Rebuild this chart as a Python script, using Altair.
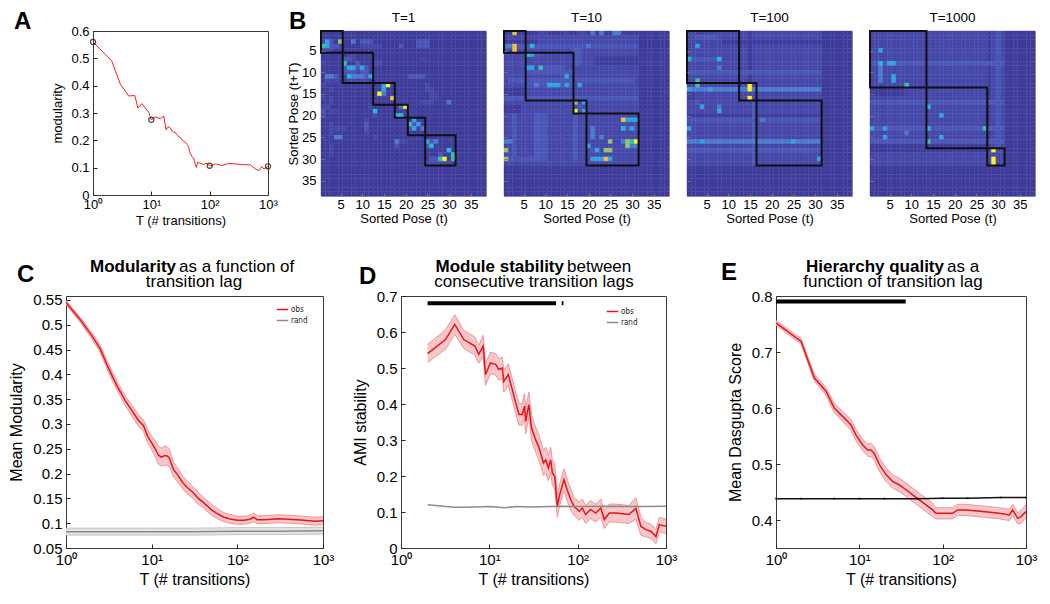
import altair as alt
import numpy as np
import pandas as pd

FONT = "Liberation Sans"
RED = "#e8141b"
BAND_FILL = "#f7c6c8"
BAND_EDGE = "#f08c90"

# ---------------- Panel A : modularity vs lag (example) ----------------
A_T = [1, 2.1, 2.95, 4.1, 5.2, 5.9, 6.9, 9.0, 10, 11.7, 14.3, 16.3, 17.9, 19.5, 21.2, 23, 26, 28,
       31.6, 34, 38, 41, 43.9, 45, 47, 50, 53.6, 56, 59, 62, 65, 74, 80, 87, 99.6, 110, 126, 164,
       214, 362, 502, 610, 700, 780, 850, 1000]
A_mod = [0.56, 0.49, 0.405, 0.362, 0.364, 0.318, 0.334, 0.303, 0.275, 0.286, 0.279, 0.289, 0.238,
         0.25, 0.245, 0.232, 0.228, 0.218, 0.21, 0.2, 0.193, 0.185, 0.175, 0.16, 0.15, 0.14, 0.132,
         0.115, 0.101, 0.12, 0.118, 0.114, 0.112, 0.117, 0.107, 0.108, 0.114, 0.108, 0.116, 0.111,
         0.11, 0.095, 0.089, 0.105, 0.095, 0.105]
A_mark_T = [1, 10, 100, 1000]
A_mark_v = [0.56, 0.275, 0.107, 0.105]

# ---------------- Panel B : transition matrices ----------------
B_titles = ["T=1", "T=10", "T=100", "T=1000"]
B_n = 38
B_ticks = [5, 10, 15, 20, 25, 30, 35]
B_modules = [
    [(1, 5), (6, 12), (13, 17), (18, 20), (21, 24), (25, 31)],
    [(1, 5), (6, 16), (17, 19), (20, 31)],
    [(1, 12), (13, 16), (17, 31)],
    [(1, 13), (14, 27), (28, 31)],
]
# blocks: (row_from, row_to, col_from, col_to, colour level 0-9), painted in order
B1_blocks = [
    (3, 3, 1, 1, 1), (3, 3, 2, 2, 4), (3, 3, 3, 3, 2), (3, 3, 5, 5, 7), (3, 3, 8, 8, 3), (3, 3, 10, 12, 2), (3, 3, 23, 25, 2),
    (4, 4, 1, 1, 6), (4, 4, 2, 2, 4), (4, 4, 3, 4, 2), (4, 4, 5, 5, 1), (4, 4, 10, 14, 1), (4, 4, 19, 19, 2), (4, 4, 23, 25, 2),
    (5, 5, 1, 3, 1), (6, 6, 7, 8, 1),
    (7, 7, 6, 7, 2), (7, 7, 8, 8, 1), (7, 7, 24, 24, 1),
    (8, 8, 1, 1, 1), (8, 8, 6, 6, 6), (8, 8, 9, 9, 2), (8, 8, 13, 14, 1),
    (9, 9, 6, 6, 2), (9, 9, 7, 8, 4), (9, 9, 9, 9, 2), (9, 9, 10, 10, 4), (9, 9, 11, 11, 2),
    (10, 10, 6, 11, 2), (10, 10, 9, 9, 1),
    (11, 11, 2, 3, 3), (11, 11, 4, 4, 2), (11, 11, 7, 7, 5), (11, 11, 8, 10, 3), (11, 11, 11, 11, 2), (11, 11, 12, 12, 4), (11, 11, 21, 24, 2),
    (12, 12, 2, 4, 1), (12, 12, 7, 11, 1),
    (13, 13, 1, 1, 1), (13, 13, 15, 15, 4), (13, 13, 16, 16, 9), (13, 13, 25, 25, 1),
    (14, 14, 3, 3, 1), (14, 14, 15, 15, 4), (14, 14, 25, 26, 1),
    (15, 15, 14, 14, 9), (15, 15, 15, 15, 3), (15, 15, 26, 27, 1),
    (16, 16, 1, 1, 1), (16, 16, 3, 3, 1), (16, 16, 17, 17, 8), (16, 16, 26, 27, 1),
    (17, 17, 3, 3, 1), (17, 17, 24, 26, 1), (17, 17, 30, 30, 3),
    (18, 18, 1, 2, 1), (18, 18, 12, 12, 1), (18, 18, 19, 19, 3), (18, 18, 20, 20, 9),
    (19, 19, 1, 1, 2), (19, 19, 3, 4, 1), (19, 19, 13, 13, 5),
    (20, 20, 1, 1, 1), (20, 20, 13, 13, 1), (20, 20, 18, 19, 5),
    (21, 21, 11, 11, 1), (21, 21, 22, 22, 4),
    (22, 22, 3, 3, 1), (22, 22, 11, 11, 2), (22, 22, 21, 21, 6), (22, 22, 22, 22, 2), (22, 22, 23, 23, 4),
    (23, 23, 3, 6, 1), (23, 23, 11, 11, 2), (23, 23, 21, 21, 2), (23, 23, 22, 22, 4), (23, 23, 24, 24, 3),
    (24, 24, 3, 3, 1), (24, 24, 11, 11, 1),
    (25, 25, 4, 5, 3), (25, 25, 13, 13, 1), (25, 25, 23, 23, 1),
    (26, 26, 18, 18, 3), (26, 26, 19, 20, 1), (26, 26, 25, 25, 4), (26, 26, 26, 26, 2), (26, 26, 27, 27, 3),
    (27, 27, 3, 3, 1), (27, 27, 18, 18, 2), (27, 27, 25, 25, 2), (27, 27, 26, 26, 5),
    (28, 28, 3, 3, 1), (28, 28, 30, 30, 5),
    (29, 29, 3, 3, 1), (29, 29, 28, 28, 2), (29, 29, 31, 31, 6),
    (30, 30, 26, 27, 2), (30, 30, 28, 28, 6), (30, 30, 29, 29, 9), (30, 30, 31, 31, 6),
    (31, 31, 25, 30, 1),
]
B2_blocks = [
    (2, 31, 1, 31, 1),
    (1, 1, 9, 10, 1), (1, 1, 15, 15, 1), (1, 1, 18, 19, 1), (1, 1, 21, 21, 3), (1, 1, 23, 23, 3), (1, 1, 26, 27, 3), (1, 1, 3, 3, 8),
    (3, 3, 1, 8, 0), (14, 15, 1, 5, 0), (7, 8, 22, 31, 0), (18, 19, 1, 4, 0),
    (4, 4, 1, 31, 2), (4, 4, 1, 2, 3), (4, 5, 3, 3, 8), (4, 4, 7, 7, 5), (4, 4, 20, 20, 3),
    (6, 6, 6, 6, 6), (6, 6, 7, 7, 4), (6, 6, 8, 9, 2), (5, 8, 17, 18, 2),
    (9, 9, 6, 7, 4), (9, 9, 9, 9, 6), (9, 9, 10, 14, 2),
    (10, 10, 6, 16, 2), (11, 11, 15, 15, 4), (12, 12, 2, 30, 2),
    (13, 13, 6, 16, 2), (13, 13, 8, 8, 3), (13, 13, 11, 13, 4), (13, 13, 15, 15, 4), (13, 13, 18, 18, 4),
    (16, 16, 1, 31, 2),
    (17, 17, 17, 17, 7), (17, 17, 19, 19, 4), (18, 18, 18, 18, 2), (19, 19, 17, 17, 9), (19, 19, 19, 19, 4),
    (20, 30, 3, 3, 2), (20, 30, 8, 10, 2), (20, 30, 17, 17, 2), (23, 25, 21, 21, 3),
    (21, 21, 28, 28, 8), (21, 21, 29, 31, 4),
    (23, 23, 28, 28, 5), (23, 23, 29, 29, 2), (23, 23, 30, 30, 4), (23, 23, 31, 31, 2),
    (25, 25, 23, 23, 3),
    (26, 26, 1, 2, 3), (26, 26, 25, 25, 7), (26, 26, 28, 28, 3), (26, 26, 29, 29, 7), (26, 26, 30, 30, 6), (26, 26, 31, 31, 9),
    (27, 27, 20, 20, 4), (27, 27, 29, 29, 7), (27, 27, 30, 31, 3),
    (28, 28, 1, 1, 7), (28, 28, 21, 21, 2), (28, 28, 22, 22, 4), (28, 28, 24, 25, 7),
    (30, 30, 2, 10, 2), (30, 30, 1, 1, 7), (30, 30, 21, 23, 4), (30, 30, 24, 24, 8), (30, 30, 25, 25, 4),
]
B3_blocks = [
    (1, 31, 1, 31, 1),
    (1, 13, 15, 15, 0), (15, 16, 1, 2, 0), (3, 3, 9, 31, 0), (20, 20, 1, 31, 0),
    (2, 2, 3, 7, 2), (4, 4, 3, 3, 4),
    (7, 7, 2, 7, 2), (7, 7, 1, 1, 5), (7, 7, 8, 8, 5),
    (9, 9, 8, 8, 3), (10, 10, 1, 31, 2),
    (12, 13, 3, 3, 6),
    (14, 14, 1, 31, 3), (14, 14, 1, 1, 4), (14, 14, 6, 6, 4),
    (13, 14, 15, 15, 9), (16, 16, 15, 15, 9),
    (17, 17, 3, 3, 2), (18, 18, 4, 4, 4), (18, 18, 8, 8, 3), (19, 19, 8, 8, 4),
    (17, 31, 16, 16, 2),
    (21, 21, 1, 31, 2), (21, 21, 18, 18, 3),
    (23, 23, 1, 1, 4),
    (26, 26, 1, 31, 3), (26, 26, 4, 4, 4), (26, 26, 25, 25, 4),
    (28, 28, 1, 31, 2),
    (30, 30, 31, 31, 4),
]
B4_blocks = [
    (1, 31, 1, 31, 1),
    (1, 27, 28, 28, 0), (1, 27, 30, 30, 2), (14, 15, 1, 8, 0), (27, 28, 1, 27, 0),
    (5, 5, 3, 3, 4),
    (8, 8, 1, 31, 2), (8, 8, 3, 3, 5), (8, 8, 5, 6, 4),
    (9, 12, 3, 3, 3), (11, 12, 6, 6, 4), (13, 13, 9, 9, 6),
    (17, 17, 1, 31, 2), (18, 18, 14, 14, 5), (20, 20, 17, 17, 4),
    (23, 23, 1, 31, 2), (23, 23, 1, 1, 4), (23, 23, 4, 4, 4), (23, 23, 14, 14, 5), (23, 23, 27, 27, 6),
    (24, 24, 9, 9, 3), (25, 25, 4, 4, 4), (25, 25, 17, 17, 4),
    (26, 26, 1, 31, 2), (26, 26, 14, 14, 6),
    (28, 28, 29, 29, 9), (30, 31, 29, 29, 9),
]
B_blocks = [B1_blocks, B2_blocks, B3_blocks, B4_blocks]
LEVEL_COLORS = ["#3e3c9b", "#4547a9", "#4a56b8", "#4a7ad2", "#2ea5e2", "#1cbfd6",
                "#38c1a2", "#8fc761", "#f2c236", "#f8f41a"]

# ---------------- Panel C : mean modularity ----------------
C_T = [1, 1.5, 2, 2.5, 3, 3.5, 4, 5, 6, 7, 8, 9, 10, 11, 12, 13, 14, 15, 16, 17, 18, 20, 23, 26,
       30, 35, 40, 50, 60, 70, 80, 100, 120, 140, 155, 170, 200, 250, 300, 400, 500, 600, 800, 1000]
C_m = [0.545, 0.508, 0.478, 0.452, 0.42, 0.395, 0.375, 0.345, 0.325, 0.307, 0.297, 0.275, 0.262,
       0.25, 0.237, 0.233, 0.236, 0.236, 0.232, 0.22, 0.208, 0.198, 0.182, 0.172, 0.163, 0.15,
       0.142, 0.127, 0.118, 0.112, 0.109, 0.106, 0.106, 0.108, 0.112, 0.107, 0.107, 0.108, 0.109,
       0.108, 0.107, 0.106, 0.104, 0.105]
C_hw = [0.004, 0.005, 0.006, 0.007, 0.008, 0.009, 0.009, 0.01, 0.011, 0.012, 0.012, 0.013, 0.014,
        0.016, 0.018, 0.018, 0.019, 0.019, 0.018, 0.016, 0.015, 0.014, 0.013, 0.013, 0.012, 0.012,
        0.011, 0.011, 0.01, 0.009, 0.009, 0.008, 0.008, 0.008, 0.009, 0.008, 0.008, 0.008, 0.008,
        0.008, 0.008, 0.008, 0.008, 0.008]
C_rT = [1, 3, 10, 30, 100, 300, 1000]
C_rm = [0.083, 0.083, 0.083, 0.083, 0.084, 0.084, 0.085]
C_rhw = [0.007, 0.007, 0.007, 0.007, 0.007, 0.007, 0.007]

# ---------------- Panel D : AMI stability ----------------
D_T = [2, 3.19, 4.06, 5.14, 6.86, 7.6, 8.5, 9.06, 10.3, 11.8, 12.8, 14, 14.6, 16.4, 18.2, 19.9,
       21.7, 23.6, 25, 25.8, 28, 30, 33.4, 36, 38, 41, 43.5, 46.6, 49.5, 51.7, 55, 58.8, 62.6, 70,
       76, 83.5, 91, 104, 113, 123, 140, 160, 183, 200, 228, 270, 380, 456, 520, 594, 677, 770,
       840, 1000]
D_m = [0.54, 0.579, 0.621, 0.579, 0.561, 0.538, 0.561, 0.482, 0.514, 0.51, 0.496, 0.50, 0.463,
       0.482, 0.44, 0.403, 0.371, 0.371, 0.394, 0.352, 0.398, 0.334, 0.301, 0.283, 0.264, 0.236,
       0.245, 0.222, 0.245, 0.209, 0.199, 0.116, 0.148, 0.19, 0.162, 0.134, 0.116, 0.102, 0.111,
       0.093, 0.107, 0.097, 0.111, 0.079, 0.097, 0.097, 0.093, 0.11, 0.06, 0.051, 0.046, 0.032,
       0.065, 0.06]
D_hw = [0.025, 0.027, 0.027, 0.025, 0.025, 0.025, 0.03, 0.03, 0.03, 0.03, 0.03, 0.03, 0.03, 0.03,
        0.03, 0.03, 0.03, 0.03, 0.035, 0.035, 0.035, 0.035, 0.035, 0.035, 0.035, 0.035, 0.035,
        0.035, 0.035, 0.035, 0.035, 0.03, 0.03, 0.03, 0.03, 0.03, 0.025, 0.025, 0.025, 0.025,
        0.025, 0.025, 0.025, 0.025, 0.025, 0.025, 0.025, 0.03, 0.025, 0.02, 0.02, 0.02, 0.02, 0.02]
D_rT = [2, 3, 4, 5, 7, 10, 15, 20, 30, 50, 70, 100, 200, 500, 1000]
D_rm = [0.12, 0.116, 0.113, 0.113, 0.114, 0.115, 0.112, 0.115, 0.114, 0.115, 0.116, 0.115, 0.116,
        0.115, 0.116]
D_sig_start = [2, 66]
D_sig_end = [57, 69]
D_sig_y = [0.68, 0.68]

# ---------------- Panel E : Dasgupta score ----------------
E_T = [1, 2, 2.88, 3.98, 5, 6.3, 7.9, 9.1, 10.96, 12.6, 13.8, 15.1, 17.4, 20.9, 25, 30, 36.3, 43.6,
       52.5, 63, 75.9, 83, 100, 131, 151, 190, 302, 479, 631, 692, 794, 870, 1000]
E_m = [0.752, 0.719, 0.654, 0.63, 0.60, 0.585, 0.57, 0.552, 0.534, 0.525, 0.525, 0.519, 0.499,
       0.481, 0.469, 0.463, 0.454, 0.445, 0.436, 0.427, 0.418, 0.412, 0.412, 0.412, 0.418, 0.418,
       0.415, 0.412, 0.409, 0.418, 0.403, 0.406, 0.415]
E_hw = [0.004, 0.005, 0.006, 0.007, 0.008, 0.009, 0.01, 0.01, 0.01, 0.011, 0.012, 0.012, 0.012,
        0.012, 0.012, 0.012, 0.012, 0.012, 0.012, 0.012, 0.012, 0.01, 0.01, 0.01, 0.01, 0.01, 0.01,
        0.01, 0.01, 0.01, 0.01, 0.012, 0.012]
E_rT = [1, 2, 5, 10, 20, 50, 100, 200, 500, 1000]
E_rm = [0.438, 0.438, 0.438, 0.438, 0.438, 0.438, 0.439, 0.439, 0.44, 0.44]
E_sig_start = [1]
E_sig_end = [36]
E_sig_y = [0.79]

LOG_LABELS = ("datum.value == 1 ? '10\u2070' : datum.value == 10 ? '10\u00b9' : "
              "datum.value == 100 ? '10\u00b2' : '10\u00b3'")
LEGEND_FONT = "DejaVu Sans Condensed, Liberation Sans, sans-serif"


def x_log_axis(title, lfs, tfs, lpad, tpad):
    return alt.Axis(values=[1, 10, 100, 1000], labelExpr=LOG_LABELS, title=title,
                    labelFontSize=lfs, titleFontSize=tfs, offset=-4, tickSize=4,
                    labelPadding=lpad, titlePadding=tpad, labelFlush=False,
                    labelOverlap=False, domain=False, grid=False, zindex=1)


def y_axis(title, values, lfs, tfs, lpad, tpad, labels=True):
    return alt.Axis(values=values, format="~g", title=title, labelFontSize=lfs,
                    titleFontSize=tfs, offset=-4, tickSize=4, labelPadding=lpad,
                    titlePadding=tpad, labelFlush=False, labelOverlap=False,
                    domain=False, grid=False, zindex=1, labels=labels)


def text_layer(text, x, y, size, weight="normal", align="left"):
    return alt.Chart(pd.DataFrame({"t": [text]})).mark_text(
        align=align, baseline="alphabetic", font=FONT, fontSize=size,
        fontWeight=weight, color="black").encode(
        x=alt.value(x), y=alt.value(y), text="t:N")


def spacer(w):
    return alt.Chart(pd.DataFrame({"a": [0]})).mark_point(opacity=0).encode(
        x=alt.value(0), y=alt.value(0)).properties(
        width=w, height=10, view=alt.ViewBackground(stroke="transparent"))


# ---------- Panel A chart (also carries the "B" panel letter)
xsA = alt.Scale(type="log", domain=[1, 1000], nice=False)
ysA = alt.Scale(domain=[0, 0.6], nice=False, zero=False)
axA_x = x_log_axis("T (# transitions)", 13, 13, 3, 3)
axA_y = y_axis("modularity", [0, 0.1, 0.2, 0.3, 0.4, 0.5, 0.6], 13, 13, 4, 6)
a_line = alt.Chart(pd.DataFrame({"T": A_T, "v": A_mod})).mark_line(
    color="#ff1a1a", strokeWidth=1).encode(
    x=alt.X("T:Q", scale=xsA, axis=axA_x), y=alt.Y("v:Q", scale=ysA, axis=axA_y))
a_pts = alt.Chart(pd.DataFrame({"T": A_mark_T, "v": A_mark_v})).mark_point(
    shape="circle", filled=False, color="black", size=26, strokeWidth=1.2, clip=False).encode(
    x=alt.X("T:Q", scale=xsA, axis=axA_x), y=alt.Y("v:Q", scale=ysA, axis=axA_y))
panelA = alt.layer(a_line, a_pts, text_layer("A", -79, -2, 24, "bold"),
                   text_layer("B", 196, -2, 24, "bold")).properties(width=175, height=164)


# ---------- Panel B charts
def heat(i):
    M = np.zeros((B_n, B_n))
    for r0, r1, c0, c1, v in B_blocks[i]:
        M[r0 - 1:r1, c0 - 1:c1] = v
    rr, cc = np.indices(M.shape)
    df = pd.DataFrame({"x0": cc.ravel() + 0.5, "x1": cc.ravel() + 1.5,
                       "y0": rr.ravel() + 0.5, "y1": rr.ravel() + 1.5, "v": M.ravel()})
    xs = alt.Scale(domain=[0.5, B_n + 0.5], nice=False, zero=False)
    ys = alt.Scale(domain=[0.5, B_n + 0.5], nice=False, zero=False, reverse=True)
    ax_x = alt.Axis(values=B_ticks, title="Sorted Pose (t)", labelFontSize=13, titleFontSize=13,
                    offset=-3, tickSize=3, labelPadding=2, titlePadding=1, domain=False,
                    grid=False, zindex=1, labelFlush=False, tickColor="#777")
    ax_y = alt.Axis(values=B_ticks, title=("Sorted Pose (t+T)" if i == 0 else ""),
                    labels=(i == 0), labelFontSize=13, titleFontSize=13, offset=-3, tickSize=3,
                    labelPadding=5, titlePadding=1, domain=False, grid=False, zindex=1,
                    labelFlush=False, tickColor="#777")
    cscale = alt.Scale(domain=list(range(10)), range=LEVEL_COLORS)
    cells = alt.Chart(df).mark_rect(strokeWidth=0.4).encode(
        x=alt.X("x0:Q", scale=xs, axis=ax_x), x2="x1:Q",
        y=alt.Y("y0:Q", scale=ys, axis=ax_y), y2="y1:Q",
        color=alt.Color("v:Q", scale=cscale, legend=None),
        stroke=alt.Stroke("v:Q", scale=cscale, legend=None))
    mods = B_modules[i]
    bdf = pd.DataFrame({"x0": [a - 0.5 for a, b in mods], "x1": [b + 0.5 for a, b in mods],
                        "y0": [a - 0.5 for a, b in mods], "y1": [b + 0.5 for a, b in mods]})
    boxes = alt.Chart(bdf).mark_rect(fillOpacity=0, stroke="#111", strokeWidth=2).encode(
        x=alt.X("x0:Q", scale=xs, axis=ax_x), x2="x1:Q",
        y=alt.Y("y0:Q", scale=ys, axis=ax_y), y2="y1:Q")
    return alt.layer(cells, boxes).properties(
        width=165, height=165, view=alt.ViewBackground(stroke="#9a9a9a"),
        title=alt.TitleParams(B_titles[i], font=FONT, fontSize=13.5, fontWeight="normal",
                              color="black", offset=6))


# ---------- Panels C, D, E
def lag_panel(T, m, hw, rT, rm, rhw, rand_color, ydom, yticks, ytitle, w, h,
              legend_xy, sig, texts):
    xs = alt.Scale(type="log", domain=[1, 1000], nice=False)
    ys = alt.Scale(domain=ydom, nice=False, zero=False)
    ax_x = x_log_axis("T (# transitions)", 15, 16, 4, 4)
    ax_y = y_axis(ytitle, yticks, 15, 16, 4, 8)

    def X(f):
        return alt.X(f + ":Q", scale=xs, axis=ax_x)

    def Y(f):
        return alt.Y(f + ":Q", scale=ys, axis=ax_y)

    df = pd.DataFrame({"T": T, "m": m, "hw": hw})
    df["lo"] = df["m"] - df["hw"]
    df["hi"] = df["m"] + df["hw"]
    layers = []
    if rhw is not None:
        rdf = pd.DataFrame({"T": rT, "m": rm, "hw": rhw})
        rdf["lo"] = rdf["m"] - rdf["hw"]
        rdf["hi"] = rdf["m"] + rdf["hw"]
        base_r = alt.Chart(rdf)
        layers.append(base_r.mark_area(color="#e4e4e4").encode(x=X("T"), y=Y("lo"), y2="hi:Q"))
        layers.append(base_r.mark_line(color="#b5b5b5", strokeWidth=0.8).encode(x=X("T"), y=Y("lo")))
        layers.append(base_r.mark_line(color="#b5b5b5", strokeWidth=0.8).encode(x=X("T"), y=Y("hi")))
    base = alt.Chart(df)
    layers.append(base.mark_area(color=BAND_FILL).encode(x=X("T"), y=Y("lo"), y2="hi:Q"))
    layers.append(base.mark_line(color=BAND_EDGE, strokeWidth=0.9).encode(x=X("T"), y=Y("lo")))
    layers.append(base.mark_line(color=BAND_EDGE, strokeWidth=0.9).encode(x=X("T"), y=Y("hi")))
    ldf = pd.concat([pd.DataFrame({"T": T, "v": m, "series": "obs"}),
                     pd.DataFrame({"T": rT, "v": rm, "series": "rand"})], ignore_index=True)
    if legend_xy is not None:
        leg = alt.Legend(title=None, orient="none", legendX=legend_xy[0], legendY=legend_xy[1],
                         symbolType="stroke", symbolSize=130, symbolStrokeWidth=1.5,
                         labelFont=LEGEND_FONT, labelFontSize=8, padding=0,
                         rowPadding=-2, labelOffset=2, labelColor="#222")
    else:
        leg = None
    layers.append(alt.Chart(ldf).mark_line(strokeWidth=1.5).encode(
        x=X("T"), y=Y("v"), detail="series:N",
        color=alt.Color("series:N", scale=alt.Scale(domain=["obs", "rand"],
                                                    range=[RED, rand_color]), legend=leg)))
    if rhw is None and legend_xy is None:
        layers.append(alt.Chart(pd.DataFrame({"T": rT, "v": rm})).mark_point(
            filled=True, color=rand_color, size=5).encode(x=X("T"), y=Y("v")))
    if sig is not None:
        sdf = pd.DataFrame({"s": sig[0], "e": sig[1], "y": sig[2]})
        layers.append(alt.Chart(sdf).mark_rule(color="black", strokeWidth=4, strokeCap="butt").encode(
            x=X("s"), x2="e:Q", y=Y("y")))
    for t in texts:
        layers.append(text_layer(*t))
    return alt.layer(*layers).properties(width=w, height=h)


panelC = lag_panel(C_T, C_m, C_hw, C_rT, C_rm, C_rhw, "#8c8c8c", [0.05, 0.558],
                   [0.05, 0.1, 0.15, 0.2, 0.25, 0.3, 0.35, 0.4, 0.45, 0.5, 0.55],
                   "Mean Modularity", 257, 252, (210, 7), None,
                   [("C", -49, -14, 24, "bold"),
                    ("Modularity", 110, -24, 17, "bold", "right"),
                    ("as a function of", 113, -24, 17, "normal", "left"),
                    ("transition lag", 128, -9, 17, "normal", "center")])
panelD = lag_panel(D_T, D_m, D_hw, D_rT, D_rm, None, "#8c8c8c", [0, 0.7],
                   [0, 0.1, 0.2, 0.3, 0.4, 0.5, 0.6, 0.7],
                   "AMI stability", 265, 252, (205, 9), (D_sig_start, D_sig_end, D_sig_y),
                   [("D", -42, -12, 24, "bold"),
                    ("Module stability", 163, -24, 17, "bold", "right"),
                    ("between", 166, -24, 17, "normal", "left"),
                    ("consecutive transition lags", 133, -9, 17, "normal", "center")])
panelE = lag_panel(E_T, E_m, E_hw, E_rT, E_rm, None, "#111111", [0.35, 0.8],
                   [0.4, 0.5, 0.6, 0.7, 0.8],
                   "Mean Dasgupta Score", 250, 252, None, (E_sig_start, E_sig_end, E_sig_y),
                   [("E", -55, -16, 24, "bold"),
                    ("Hierarchy quality", 168, -24, 17, "bold", "right"),
                    ("as a", 171, -24, 17, "normal", "left"),
                    ("function of transition lag", 117, -9, 17, "normal", "center")])

top = alt.hconcat(spacer(9), panelA, spacer(17), heat(0), heat(1), heat(2), heat(3),
                  spacing=18, bounds="flush")
bottom = alt.hconcat(panelC, spacer(18), panelD, spacer(50), panelE,
                     spacing=30, bounds="flush").resolve_scale(color="independent")

chart = alt.vconcat(top, bottom, spacing=29).configure_view(
    stroke="#3a3a3a", strokeWidth=1).configure_axis(
    labelFont=FONT, titleFont=FONT, labelColor="black", titleColor="black",
    titleFontWeight="normal", tickColor="#262626").properties(
    padding={"left": 0, "top": 1, "right": 0, "bottom": 0})

chart.save("out.html", embed_options={"renderer": "svg", "actions": False})
